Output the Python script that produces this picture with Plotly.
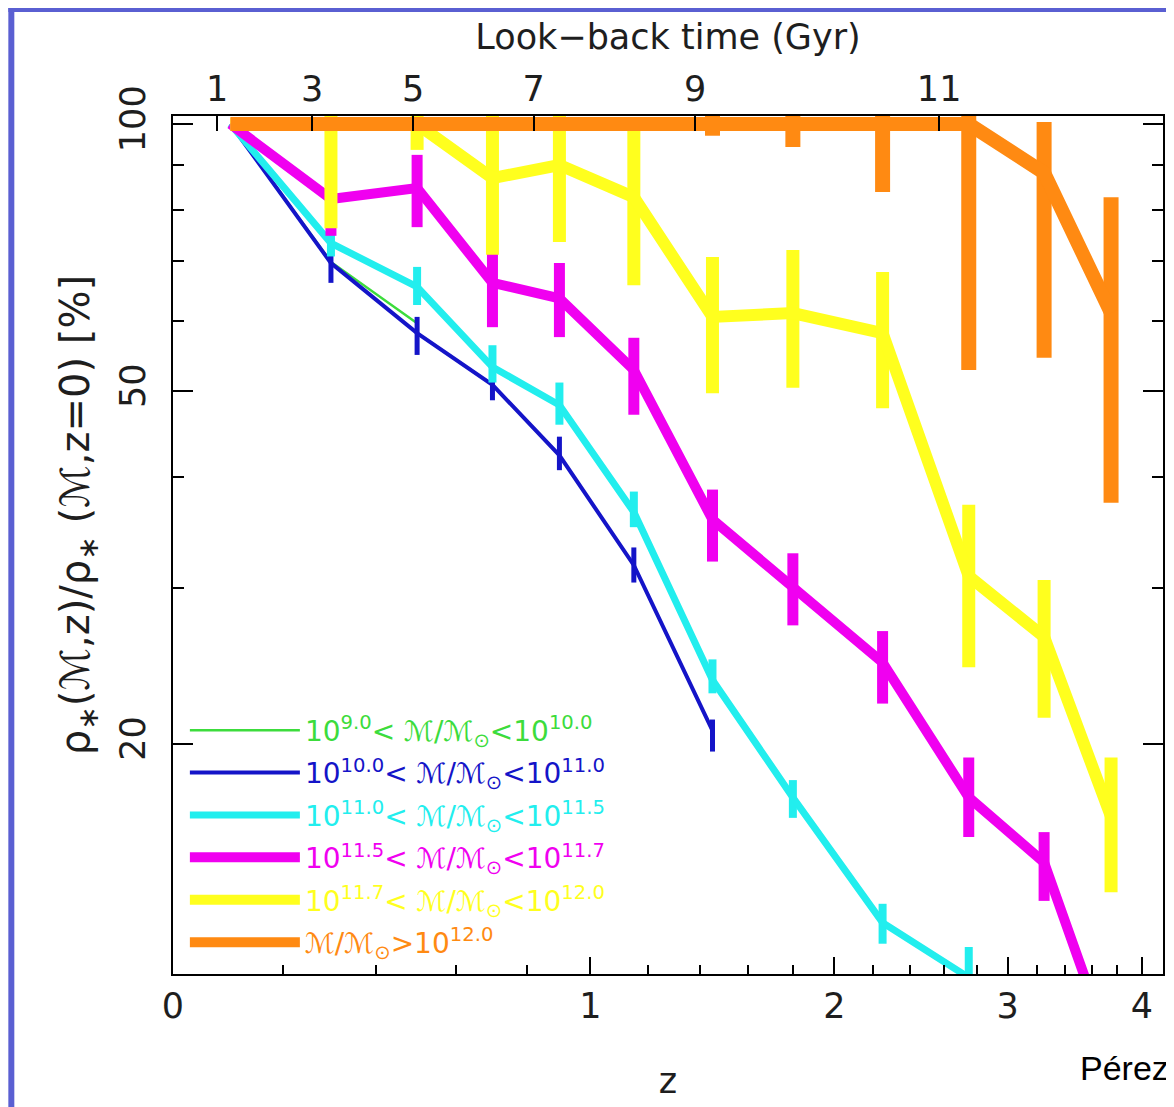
import math
import plotly.graph_objects as go

# ---------------- data ----------------
z = [0.1, 0.3, 0.5, 0.7, 0.9, 1.15, 1.45, 1.8, 2.25, 2.75, 3.25, 3.75]

green_val = [100, 69.9, 59.6]

blue_val = [100, 69.7, 58.1, 50.8, 42.3, 31.8, 20.7]
blue_up = [0, 2.5, 2.5, 1.8, 2.1, 1.5, 0.6]
blue_dn = [0, 3.5, 3.2, 2.0, 1.6, 1.4, 1.1]

cyan_val = [100, 73.4, 65.5, 53.2, 48.2, 36.5, 23.6, 17.4, 12.57, 10.9]
cyan_up = [0, 2.5, 3.5, 3.1, 2.9, 2.0, 1.3, 0.8, 0.63, 0.9]
cyan_dn = [0, 2.5, 3.0, 2.1, 2.4, 1.4, 0.8, 0.9, 0.67, 0.9]

mag_val = [100, 82.3, 84.7, 66.2, 63.6, 52.8, 35.8, 30.0, 24.7, 17.4, 14.7, 9.0]
mag_up = [0, 7.5, 7.6, 7.0, 6.1, 4.6, 2.9, 2.8, 2.1, 1.9, 1.2, 1.0]
mag_dn = [0, 7.5, 8.2, 7.2, 6.1, 5.8, 3.7, 2.8, 2.5, 1.7, 1.4, 1.0]

yel_val = [100, 100, 100, 86.9, 89.9, 82.7, 60.6, 61.2, 58.1, 30.9, 26.4, 16.55]
yel_up = [0, 24, 6.5, 16, 16, 17, 10.2, 10.9, 10.0, 6.3, 4.2, 2.75]
yel_dn = [0, 23.7, 6.5, 15.7, 16.3, 16.9, 10.9, 10.8, 10.3, 6.5, 5.0, 2.95]

ora_val = [100, 100, 100, 100, 100, 100, 100, 100, 100, 100, 88.1, 61.2]
ora_up = [0, 0, 0, 0, 0, 0, 3, 5.8, 16, 47, 12.4, 21.5]
ora_dn = [0, 0, 0, 0, 0, 0, 3, 5.8, 16.2, 47.2, 33.6, 23.8]

z_ticks = [0, 1, 2, 3, 4]
z_minor = [0.2, 0.4, 0.6, 0.8, 1.2, 1.4, 1.6, 1.8, 2.2, 2.4, 2.6, 2.8,
           3.2, 3.4, 3.6, 3.8]
lookback_labels = ["1", "3", "5", "7", "9", "11"]
lookback_z = [0.076, 0.26, 0.49, 0.82, 1.38, 2.57]
y_ticks = [20, 50, 100]
y_minor = [30, 40, 60, 70, 80, 90]

names = [
    "10<sup>9.0</sup>< ℳ/ℳ<sub>⊙</sub><10<sup>10.0</sup>",
    "10<sup>10.0</sup>< ℳ/ℳ<sub>⊙</sub><10<sup>11.0</sup>",
    "10<sup>11.0</sup>< ℳ/ℳ<sub>⊙</sub><10<sup>11.5</sup>",
    "10<sup>11.5</sup>< ℳ/ℳ<sub>⊙</sub><10<sup>11.7</sup>",
    "10<sup>11.7</sup>< ℳ/ℳ<sub>⊙</sub><10<sup>12.0</sup>",
    "ℳ/ℳ<sub>⊙</sub>>10<sup>12.0</sup>",
]
colors = ["#3cdc3c", "#1414c8", "#22eeee", "#f000f0", "#ffff1e", "#ff8a12"]
line_w = [2.5, 4, 7, 10, 12, 14]

FONT = "DejaVu Sans"
TXT = "#1e1e1e"

# page body has an 8px margin; plot area should sit at page x 173..1165, y 116..974
W, H = 1166, 1099
ML, MT, PW, PH = 165, 108, 992, 858

# ---------------- figure ----------------
fig = go.Figure()

def onez(vals):
    return [1 + v for v in vals]

series = [
    (green_val, None, None),
    (blue_val, blue_up, blue_dn),
    (cyan_val, cyan_up, cyan_dn),
    (mag_val, mag_up, mag_dn),
    (yel_val, yel_up, yel_dn),
    (ora_val, ora_up, ora_dn),
]

for i, (vals, up, dn) in enumerate(series):
    n = len(vals)
    err = None
    if up is not None:
        err = dict(type="data", symmetric=False, array=up, arrayminus=dn,
                   color=colors[i], thickness=line_w[i] + 1, width=0,
                   visible=True)
    # the top-most series is drawn on the overlaid (look-back) axis so it exists
    xa = "x2" if i == len(series) - 1 else "x"
    fig.add_trace(go.Scatter(
        x=onez(z[:n]), y=vals, mode="lines",
        line=dict(color=colors[i], width=line_w[i]),
        error_y=err,
        name=f'<span style="color:{colors[i]}">{names[i]}</span>',
        legendgroup=f"g{i}",
        xaxis=xa, yaxis="y",
    ))

xr = [0, math.log10(5.178)]
yr = [math.log10(11.0), math.log10(102.1)]

fig.update_layout(
    width=W, height=H, autosize=False,
    margin=dict(l=ML, r=W - ML - PW, t=MT, b=H - MT - PH),
    paper_bgcolor="white", plot_bgcolor="white",
    font=dict(family=FONT, color=TXT),
    showlegend=True,
    legend=dict(x=0.012, y=0.313, xanchor="left", yanchor="top",
                bgcolor="rgba(0,0,0,0)", font=dict(size=28, family=FONT),
                itemwidth=110, tracegroupgap=3, traceorder="grouped"),
    xaxis=dict(
        type="log", range=xr, showgrid=False, zeroline=False,
        tickmode="array", tickvals=onez(z_ticks), ticktext=[str(t) for t in z_ticks],
        ticks="inside", ticklen=17, tickwidth=2, tickcolor="black",
        showline=True, linecolor="black", linewidth=2, mirror=True,
        tickfont=dict(size=35, family=FONT, color=TXT),
        title=dict(text="z", font=dict(size=35, family=FONT, color=TXT), standoff=43),
        minor=dict(tickmode="array", tickvals=onez(z_minor), ticks="inside",
                   ticklen=9, tickwidth=2, tickcolor="black", showgrid=False),
    ),
    xaxis2=dict(
        type="log", range=xr, overlaying="x", side="top", anchor="y",
        showgrid=False, zeroline=False, showline=False,
        tickmode="array", tickvals=onez(lookback_z), ticktext=lookback_labels,
        ticks="inside", ticklen=15, tickwidth=2, tickcolor="black",
        ticklabelstandoff=7,
        tickfont=dict(size=35, family=FONT, color=TXT),
        title=dict(text="Look−back time (Gyr)",
                   font=dict(size=35, family=FONT, color=TXT), standoff=8),
    ),
    yaxis=dict(
        type="log", range=yr, showgrid=False, zeroline=False,
        tickmode="array", tickvals=y_ticks, ticktext=[str(t) for t in y_ticks],
        tickangle=-90, ticklabelstandoff=12,
        ticks="inside", ticklen=20, tickwidth=2, tickcolor="black",
        showline=True, linecolor="black", linewidth=2, mirror="ticks",
        tickfont=dict(size=35, family=FONT, color=TXT),
        minor=dict(tickmode="array", tickvals=y_minor, ticks="inside",
                   ticklen=11, tickwidth=2, tickcolor="black", showgrid=False),
    ),
)

# y-axis title (placed a little above the centre, as in the reference)
fig.add_annotation(text="ρ<sub>∗</sub>(ℳ,z)/ρ<sub>∗</sub> (ℳ,z=0) [%]",
                   xref="paper", yref="paper",
                   x=(78 - 173) / PW, y=(974 - 515) / PH,
                   xanchor="center", yanchor="middle", textangle=-90,
                   showarrow=False,
                   font=dict(size=40, family=FONT, color=TXT))

# slide background strips (left and top edges)
fig.add_shape(type="rect", xref="paper", yref="paper",
              x0=-ML / PW, x1=(14 - 173) / PW, y0=-(H - MT - PH) / PH, y1=(974 - 8) / PH,
              fillcolor="#5a5fd2", line=dict(width=0), layer="below")
fig.add_shape(type="rect", xref="paper", yref="paper",
              x0=-ML / PW, x1=(W - ML) / PW, y0=(974 - 12) / PH, y1=(974 - 8) / PH,
              fillcolor="#5a5fd2", line=dict(width=0), layer="below")

fig.add_annotation(text="Pérez", xref="paper", yref="paper",
                   x=(1080 - 173) / PW, y=(974 - 1068) / PH,
                   xanchor="left", yanchor="middle", showarrow=False,
                   font=dict(size=34, family="Liberation Sans", color="black"))

fig.write_html("out.html")
